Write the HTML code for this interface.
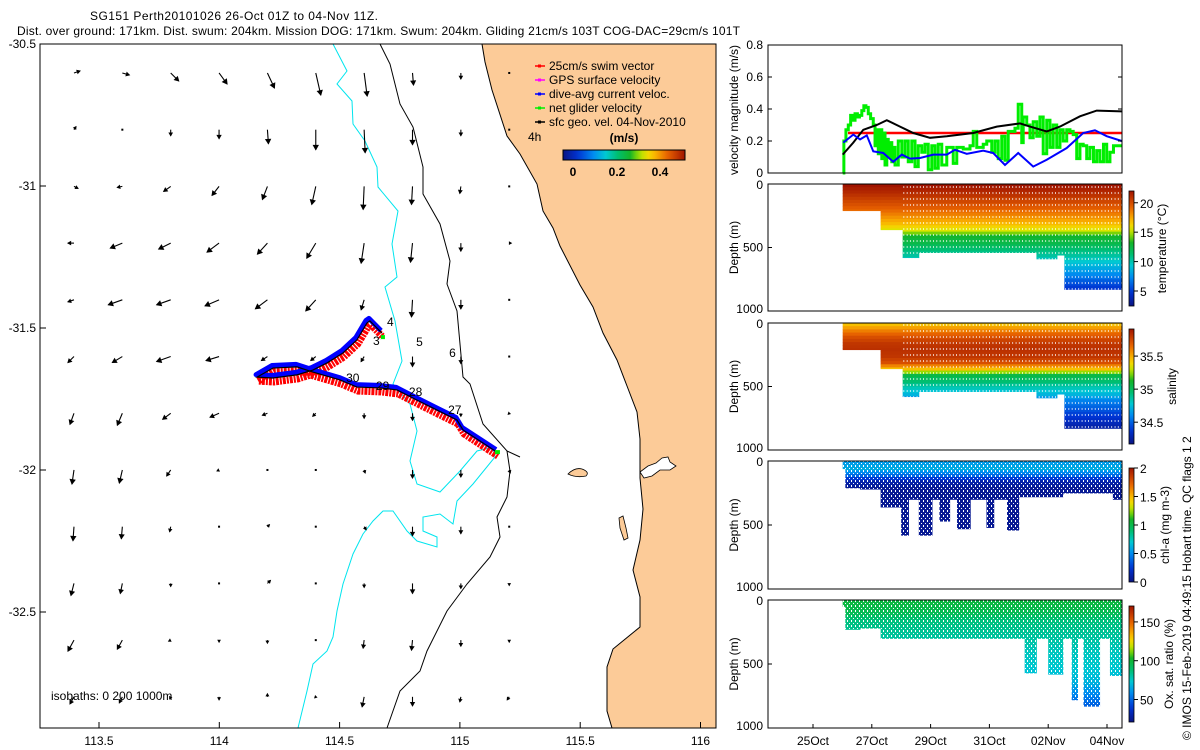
<!DOCTYPE html>
<html><head><meta charset="utf-8"><style>
html,body{margin:0;padding:0;background:#fff;}
svg{display:block;font-family:"Liberation Sans",sans-serif;}
text{font-size:12px;fill:#000;}
</style></head><body>
<svg id="fig" width="1200" height="750" viewBox="0 0 1200 750">
<defs>
<pattern id="speck" width="4" height="5" patternUnits="userSpaceOnUse"><rect x="3" y="0" width="1" height="2" fill="#fff"/><rect x="1" y="3" width="1" height="1" fill="#fff"/></pattern>
<pattern id="vdots" width="3.3" height="6" patternUnits="userSpaceOnUse"><rect x="2.6" y="0" width="0.7" height="2" fill="#fff"/></pattern>
</defs>
<text x="90" y="20" textLength="288">SG151 Perth20101026 26-Oct 01Z to 04-Nov 11Z.</text>
<text x="17" y="35" textLength="723">Dist. over ground: 171km. Dist. swum: 204km. Mission DOG: 171km. Swum: 204km. Gliding 21cm/s 103T COG-DAC=29cm/s 101T</text>
<g id="map"></g>
<g id="right"></g>
</svg>
<script>
// ---------- DATA ----------
const gridU = [
 [0.06,0.07,0.08,0.08,0.07,0.05,0.03,0.01,0,0],
 [0.02,0,0,0,0.01,0,0.01,0,0,0],
 [0.04,-0.05,-0.07,-0.07,-0.05,-0.04,-0.01,-0.01,-0.01,0.01],
 [-0.06,-0.12,-0.12,-0.12,-0.10,-0.09,-0.03,-0.02,0,0.02],
 [-0.06,-0.14,-0.14,-0.14,-0.12,-0.10,-0.03,-0.01,0,0],
 [-0.06,-0.10,-0.14,-0.13,-0.06,-0.05,-0.03,0,0,0],
 [-0.04,-0.05,-0.08,-0.09,-0.05,-0.03,0,0,0,-0.01],
 [-0.02,-0.03,-0.04,-0.02,0,0,0.01,0,0,0.01],
 [-0.01,-0.01,-0.01,0,0.02,0,0.02,0,0,0],
 [-0.03,-0.02,0,0,0.03,0,0,0,0,0],
 [-0.06,-0.05,-0.02,0,0,0,-0.01,-0.01,0,0],
 [-0.04,-0.03,-0.01,0,0,-0.01,-0.02,0,-0.01,-0.02]];
const gridV = [
 [0.02,-0.02,-0.08,-0.11,-0.15,-0.22,-0.23,-0.12,-0.06,0],
 [0.03,-0.01,-0.06,-0.09,-0.14,-0.20,-0.23,-0.15,-0.06,0],
 [-0.02,-0.01,-0.05,-0.09,-0.13,-0.18,-0.23,-0.18,-0.07,0],
 [0,-0.05,-0.06,-0.09,-0.11,-0.15,-0.20,-0.19,-0.08,0],
 [-0.02,-0.05,-0.05,-0.06,-0.09,-0.11,-0.10,-0.17,-0.09,-0.01],
 [-0.06,-0.06,-0.05,-0.04,-0.04,-0.04,-0.05,-0.10,-0.07,0],
 [-0.11,-0.12,-0.06,-0.04,-0.02,-0.03,-0.05,-0.07,-0.03,-0.01],
 [-0.14,-0.13,-0.06,-0.01,0,0,-0.03,-0.08,-0.07,-0.03],
 [-0.14,-0.12,-0.05,0,0.02,0.01,-0.03,-0.09,-0.07,-0.01],
 [-0.12,-0.10,-0.03,0,0.03,0.01,-0.04,-0.10,-0.05,-0.02],
 [-0.11,-0.09,-0.01,-0.02,-0.03,0,-0.08,-0.10,-0.06,-0.02],
 [-0.07,-0.06,-0.02,-0.03,0.03,-0.01,-0.10,-0.09,-0.05,-0.03]];
const gridLon0 = 113.396, gridDLon = 0.201, gridLat0 = -30.602, gridDLat = -0.1997;
const trackLon = [115.154,115.096,115.013,114.988,114.905,114.822,114.739,114.668,114.572,114.502,114.389,114.323,114.223,114.157,114.223,114.323,114.389,114.448,114.514,114.572,114.614,114.626,114.676];
const trackLat = [-31.937,-31.905,-31.859,-31.824,-31.789,-31.754,-31.718,-31.711,-31.708,-31.683,-31.655,-31.637,-31.641,-31.673,-31.676,-31.665,-31.648,-31.623,-31.588,-31.542,-31.482,-31.475,-31.518];
const dayLabels = ["4","3","5","6","30","29","28","27"];
const dayLabLon = [114.697,114.639,114.818,114.955,114.527,114.651,114.788,114.951];
const dayLabLat = [-31.493,-31.56,-31.563,-31.602,-31.69,-31.718,-31.739,-31.803];
const lonTicks = [113.5,114,114.5,115,115.5,116];
const latTicks = [-30.5,-31,-31.5,-32,-32.5];
const tBlue = [1.03,1.37,1.60,1.83,2.05,2.39,2.73,3.02,3.30,3.64,4.09,4.55,4.83,5.23,5.79,6.13,6.53,6.98,7.49,7.95,8.63,9.19,9.59,9.99,10.50];
const vBlue = [0.19,0.24,0.21,0.235,0.135,0.125,0.07,0.115,0.09,0.094,0.115,0.115,0.145,0.12,0.14,0.125,0.05,0.125,0.04,0.083,0.156,0.25,0.267,0.23,0.2];
const tBlack = [1.01,1.37,1.71,2.17,2.51,2.96,3.41,3.98,4.55,5.45,6.25,7.04,7.38,7.95,8.40,9.08,9.65,10.50];
const vBlack = [0.115,0.19,0.27,0.3,0.33,0.29,0.25,0.22,0.23,0.25,0.29,0.31,0.29,0.26,0.29,0.354,0.39,0.385];
const tRed = [1.19,10.5];
const vRed = [0.25,0.25];
const tGreen = [1.01,1.05,1.12,1.20,1.28,1.35,1.43,1.51,1.58,1.66,1.73,1.80,1.88,1.96,2.05,2.11,2.17,2.22,2.28,2.34,2.39,2.45,2.51,2.56,2.62,2.68,2.73,2.79,2.90,3.02,3.13,3.24,3.36,3.47,3.58,3.70,3.81,3.92,4.04,4.15,4.26,4.38,4.55,4.77,4.89,5.11,5.34,5.45,5.57,5.68,5.79,5.91,6.08,6.19,6.30,6.42,6.53,6.64,6.76,6.87,6.98,7.10,7.15,7.27,7.38,7.49,7.61,7.72,7.83,7.95,8.06,8.17,8.29,8.40,8.51,8.63,8.74,8.85,8.97,9.08,9.19,9.31,9.42,9.54,9.65,9.76,9.88,9.99,10.10,10.22,10.50];
const vGreen = [0,0.2,0.27,0.30,0.36,0.33,0.37,0.35,0.36,0.39,0.42,0.41,0.37,0.34,0.30,0.17,0.27,0.12,0.27,0.09,0.25,0.05,0.21,0.1,0.19,0.07,0.16,0.05,0.2,0.1,0.2,0.07,0.2,0.04,0.17,0.13,0.18,0.02,0.17,0.03,0.18,0.05,0.16,0.06,0.16,0.15,0.17,0.26,0.16,0.16,0.18,0.2,0.13,0.2,0.09,0.23,0.08,0.26,0.26,0.28,0.43,0.19,0.35,0.30,0.22,0.32,0.23,0.35,0.12,0.33,0.16,0.3,0.16,0.27,0.2,0.27,0.26,0.24,0.09,0.18,0.17,0.09,0.16,0.07,0.14,0.07,0.18,0.07,0.13,0.17,0.17];
const velTicks = [0,0.2,0.4,0.6,0.8];
const dateTicks = [0,2,4,6,8,10];
const dateLabels = ["25Oct","27Oct","29Oct","31Oct","02Nov","04Nov"];
const depthLevels = [0,50,100,150,200,250,300,350,400,450,500,550,600,650,700,750,800,850];
const tempProfile = [22,21.3,20.5,19.8,19,18,17,15.5,13,12.3,11.2,10.3,9.3,8.3,7.3,6,5,4.3];
const salProfile = [35.45,35.6,35.72,35.8,35.82,35.8,35.72,35.45,35.05,34.95,34.82,34.72,34.58,34.5,34.42,34.35,34.28,34.25];
const chlProfile = [0.55,0.6,0.4,0.12,0.06,0.05,0.05,0.05,0.05,0.05,0.05,0.05,0.05,0.05,0.05,0.05,0.05,0.05];
const oxyProfile = [98,96,92,86,84,82,80,78,76,75,74,72,70,66,60,55,50,48];
const tsSegT0 = [1.01,1.6,2.3,3.05,3.6,7.6,8.3,8.55];
const tsSegT1 = [1.6,2.3,3.05,3.6,7.6,8.3,8.55,10.5];
const tsSegMax = [210,210,360,580,540,590,560,830];
const chlSegT0 = [1.01,1.1,1.6,2.3,3.0,3.25,3.6,4.05,4.3,4.65,4.9,5.35,5.9,6.15,6.6,7.0,8.5,10.2];
const chlSegT1 = [1.1,1.6,2.3,3.0,3.25,3.6,4.05,4.3,4.65,4.9,5.35,5.9,6.15,6.6,7.0,8.5,10.2,10.5];
const chlSegMax = [60,210,220,360,580,300,580,300,470,300,530,300,520,300,540,280,250,300];
const oxySegT0 = [1.01,1.1,1.6,2.3,7.2,7.6,8.0,8.5,8.8,9.0,9.2,9.75,10.1];
const oxySegT1 = [1.1,1.6,2.3,7.2,7.6,8.0,8.5,8.8,9.0,9.2,9.75,10.1,10.5];
const oxySegMax = [50,230,220,300,570,300,580,300,780,300,830,300,590];

// ---------- HELPERS ----------
const NS='http://www.w3.org/2000/svg';
function mk(tag, attrs, parent){const e=document.createElementNS(NS,tag);for(const k in attrs)e.setAttribute(k,attrs[k]);parent.appendChild(e);return e;}
const map=document.getElementById('map'), right=document.getElementById('right');
const lonX = lon => 99 + (lon-113.5)*240.6;
const latY = lat => 44 + (-30.5-lat)*284;
const stops=[[0,[10,20,130]],[0.12,[0,50,210]],[0.25,[0,140,240]],[0.35,[0,200,210]],[0.45,[0,190,110]],[0.55,[20,180,40]],[0.62,[150,220,0]],[0.68,[240,230,0]],[0.76,[250,175,0]],[0.86,[230,95,0]],[1,[160,20,0]]];
function cmap(f){f=Math.max(0,Math.min(1,f));for(let i=1;i<stops.length;i++){if(f<=stops[i][0]){const a=stops[i-1],b=stops[i],r=(f-a[0])/(b[0]-a[0]);const c=a[1].map((v,j)=>Math.round(v+(b[1][j]-v)*r));return `rgb(${c[0]},${c[1]},${c[2]})`;}}return 'rgb(160,20,0)';}

// ---------- MAP ----------
mk('rect',{x:40,y:44,width:676,height:684,fill:'#fff'},map);
let e;
e=mk('path',{d:'M482,44 L485,62 L492,90 L507,136 L520,154 L537,184 L543,211 L553,228 L560,246 L580,285 L593,307 L603,333 L617,360 L627,386 L637,412 L640,439 L640,478 L643,509 L640,540 L633,570 L640,597 L640,627 L613,649 L607,667 L607,711 L612,728 L716,728 L716,44 Z',fill:'#fccb98',stroke:'#000','stroke-width':1},map);

e=mk('path',{d:'M568,474 Q575,467 582,469 Q590,472 586,476 Q576,478 568,474 Z',fill:'#fccb98',stroke:'#000','stroke-width':0.8},map);

e=mk('path',{d:'M619,518 L623,516 L626,528 L628,538 L624,540 L620,528 Z',fill:'#fccb98',stroke:'#000','stroke-width':0.8},map);

e=mk('path',{d:'M640,472 L648,466 L656,463 L662,458 L668,457 L670,462 L676,466 L670,470 L660,470 L652,476 L644,478 Z',fill:'#fff',stroke:'#000','stroke-width':0.8},map);

e=mk('path',{d:'M380,44 L390,64 L400,104 L413,127 L423,167 L423,194 L440,224 L450,261 L447,284 L457,311 L463,377 L470,384 L483,424 L507,451 L520,457 M507,451 L510,471 L507,497 L497,517 L500,537 L490,557 L467,584 L447,611 L427,651 L420,671 L400,691 L387,728',fill:'none',stroke:'#000','stroke-width':1},map);

e=mk('path',{d:'M333,44 L347,71 L337,84 L352,101 L353,124 L365,141 L377,167 L378,187 L398,211 L392,244 L397,277 L385,287 L395,321 L402,361 L393,384 L410,404 L417,431 L410,461 L417,484 L440,492 L460,471 L477,451 L493,447 L495,457 L473,484 L457,501 L453,524 L440,514 L423,517 L423,531 L437,537 L437,547 L417,541 L407,531 L393,511 L383,511 L373,521 L363,534 L353,554 L343,584 L337,611 L333,637 L327,651 L313,664 L307,691 L298,728',fill:'none',stroke:'#00e5ee','stroke-width':1},map);


const arrG=mk('g',{},map);

for(let r=0;r<gridU.length;r++){for(let c=0;c<gridU[r].length;c++){
  const x0=lonX(gridLon0+c*gridDLon), y0=latY(gridLat0+r*gridDLat);
  const dx=gridU[r][c]*100, dy=-gridV[r][c]*100, L=Math.hypot(dx,dy);
  const g=mk('g',{},arrG);
  
  
  if(L<1.2){mk('rect',{x:x0-1,y:y0-1,width:2,height:2,fill:'#000'},g);continue;}
  const ux=dx/L,uy=dy/L,hs=Math.min(3.2,1.6+L*0.12);
  mk('line',{x1:x0,y1:y0,x2:x0+dx,y2:y0+dy,stroke:'#000','stroke-width':1.1},g);
  const tx=x0+dx+ux,ty=y0+dy+uy;
  mk('polygon',{points:`${tx},${ty} ${tx-ux*hs*1.8-uy*hs},${ty-uy*hs*1.8+ux*hs} ${tx-ux*hs*1.8+uy*hs},${ty-uy*hs*1.8-ux*hs}`,fill:'#000'},g);
}}

const tp=trackLon.map((lo,i)=>[lonX(lo),latY(trackLat[i])]);
const ptsOff=(ox,oy)=>tp.map(p=>`${p[0]+ox},${p[1]+oy}`).join(' ');
e=mk('polyline',{points:ptsOff(1,4),fill:'none',stroke:'#ff0000','stroke-width':7,'stroke-dasharray':'2 1 3 1','stroke-linejoin':'round'},map);

e=mk('polyline',{points:ptsOff(-1,-2.5),fill:'none',stroke:'#0000ff','stroke-width':5,'stroke-linejoin':'round'},map);

e=mk('polyline',{points:ptsOff(0,0),fill:'none',stroke:'#000','stroke-width':1.2},map);

e=mk('rect',{x:tp[0][0]-2,y:tp[0][1]-2,width:5,height:4,fill:'#00ee00'},map);

e=mk('rect',{x:tp[tp.length-1][0]-1,y:tp[tp.length-1][1]+2,width:4,height:4,fill:'#00ee00'},map);

dayLabels.forEach((s,i)=>{const t=mk('text',{x:lonX(dayLabLon[i]),y:latY(dayLabLat[i])},map);t.textContent=s;
  });

const legItems=[['25cm/s swim vector','#ff0000'],['GPS surface velocity','#ff00ff'],['dive-avg current veloc.','#0000ff'],['net glider velocity','#00ee00'],['sfc geo. vel. 04-Nov-2010','#000']];
const legG=mk('g',{},map);
legItems.forEach((it,i)=>{const y=66+i*14;
  const l=mk('line',{x1:535,y1:y,x2:545,y2:y,stroke:it[1],'stroke-width':1.5},legG);
  
  mk('rect',{x:538,y:y-1.5,width:3,height:3,fill:it[1]},legG);
  const t=mk('text',{x:549,y:y+4},legG);t.textContent=it[0];
  });
e=mk('text',{x:528,y:141},map);e.textContent='4h';
e=mk('text',{x:624,y:142,'text-anchor':'middle','font-weight':'bold'},map);e.textContent='(m/s)';
const defs=document.querySelector('defs');
const lg=mk('linearGradient',{id:'hgrad',x1:0,y1:0,x2:1,y2:0},defs);
const lgv=mk('linearGradient',{id:'vgrad',x1:0,y1:1,x2:0,y2:0},defs);
for(let i=0;i<=20;i++){mk('stop',{offset:i/20,'stop-color':cmap(i/20)},lg);mk('stop',{offset:i/20,'stop-color':cmap(i/20)},lgv);}
e=mk('rect',{x:563,y:150,width:122,height:10,fill:'url(#hgrad)',stroke:'#000','stroke-width':1},map);

[['0',573],['0.2',617],['0.4',660]].forEach(a=>{const t=mk('text',{x:a[1],y:176,'text-anchor':'middle','font-weight':'bold'},map);t.textContent=a[0];
  });
e=mk('text',{x:51,y:700},map);e.textContent='isobaths: 0  200  1000m';

e=mk('rect',{x:40,y:44,width:676,height:684,fill:'none',stroke:'#000','stroke-width':1},map);

lonTicks.forEach(v=>{const x=lonX(v);mk('line',{x1:x,y1:728,x2:x,y2:722,stroke:'#000'},map);
  const t=mk('text',{x:x,y:745,'text-anchor':'middle'},map);t.textContent=String(v);
  });
latTicks.forEach(v=>{const y=latY(v);mk('line',{x1:40,y1:y,x2:46,y2:y,stroke:'#000'},map);
  const t=mk('text',{x:36,y:y+4,'text-anchor':'end'},map);t.textContent=String(v);
  });

// ---------- RIGHT PANELS ----------
const X0=768,X1=1122;
const xT=t=>813+t*29.4;
const vY=v=>173-v/0.8*128;
e=mk('polyline',{points:tRed.map((t,i)=>`${xT(t)},${vY(vRed[i])}`).join(' '),fill:'none',stroke:'#ff0000','stroke-width':2.5},right);

let gp=[];tGreen.forEach((t,i)=>{if(i>0)gp.push(`${xT(t)},${vY(vGreen[i-1])}`);gp.push(`${xT(t)},${vY(vGreen[i])}`);});
e=mk('polyline',{points:gp.join(' '),fill:'none',stroke:'#00ee00','stroke-width':3},right);

e=mk('polyline',{points:tBlack.map((t,i)=>`${xT(t)},${vY(vBlack[i])}`).join(' '),fill:'none',stroke:'#000','stroke-width':2},right);

e=mk('polyline',{points:tBlue.map((t,i)=>`${xT(t)},${vY(vBlue[i])}`).join(' '),fill:'none',stroke:'#0000ff','stroke-width':2},right);

e=mk('rect',{x:X0,y:45,width:X1-X0,height:128,fill:'none',stroke:'#000'},right);

velTicks.forEach(v=>{const y=vY(v);mk('line',{x1:X0,y1:y,x2:X0+4,y2:y,stroke:'#000'},right);mk('line',{x1:X1,y1:y,x2:X1-4,y2:y,stroke:'#000'},right);
  const t=mk('text',{x:763,y:y+4,'text-anchor':'end'},right);t.textContent=String(v);
  });
e=mk('text',{x:0,y:0,transform:'translate(738,110) rotate(-90)','text-anchor':'middle'},right);e.textContent='velocity magnitude (m/s)';


const panels=[
 {top:184,bot:311,prof:tempProfile,t0:tsSegT0,t1:tsSegT1,mx:tsSegMax,vmin:2.45,vmax:22,cb:[191,306],ticks:[5,10,15,20],lab:'temperature (°C)',labx:1166,name:'temperature',pat:'vdots'},
 {top:323,bot:450,prof:salProfile,t0:tsSegT0,t1:tsSegT1,mx:tsSegMax,vmin:34.17,vmax:35.91,cb:[329,444],ticks:[34.5,35,35.5],lab:'salinity',labx:1176,name:'salinity',pat:'vdots'},
 {top:461,bot:589,prof:chlProfile,t0:chlSegT0,t1:chlSegT1,mx:chlSegMax,vmin:0,vmax:2,cb:[468,582],ticks:[0,0.5,1,1.5,2],lab:'chl-a (mg m-3)',labx:1169,name:'chlorophyll',pat:'speck'},
 {top:600,bot:728,prof:oxyProfile,t0:oxySegT0,t1:oxySegT1,mx:oxySegMax,vmin:21,vmax:170.5,cb:[606,722],ticks:[50,100,150],lab:'Ox. sat. ratio (%)',labx:1173,name:'oxygen',pat:'speck'}];
panels.forEach(P=>{
  const g=mk('g',{},right);
  
  
  const dY=d=>P.top+d/1000*(P.bot-P.top);
  P.t0.forEach((ta,s)=>{
    const x=xT(ta),w=xT(P.t1[s])-x;
    for(let d=0;d<P.mx[s];d+=25){
      const i=Math.min(Math.floor(d/50),depthLevels.length-2),r=(d-depthLevels[i])/50;
      const val=P.prof[i]+(P.prof[i+1]-P.prof[i])*r;
      const dd=Math.min(d+25,P.mx[s]);
      const rc=mk('rect',{x:x,y:dY(d),width:w+0.4,height:dY(dd)-dY(d)+0.4,fill:cmap((val-P.vmin)/(P.vmax-P.vmin))},g);
      
      
    }
  });
  const ov=mk('rect',{x:xT(P.pat==='vdots'?3.0:1.0),y:P.top,width:X1-xT(P.pat==='vdots'?3.0:1.0),height:P.bot-P.top,fill:`url(#${P.pat})`},right);
  
  const fr=mk('rect',{x:X0,y:P.top,width:X1-X0,height:P.bot-P.top,fill:'none',stroke:'#000'},right);
  
  [0,500,1000].forEach(d=>{const y=dY(d);mk('line',{x1:X0,y1:y,x2:X0+4,y2:y,stroke:'#000'},right);
    const t=mk('text',{x:763,y:y+(d===0?5:d===1000?2:4),'text-anchor':'end'},right);t.textContent=String(d);
    });
  const yl=mk('text',{x:0,y:0,transform:`translate(738,${(P.top+P.bot)/2}) rotate(-90)`,'text-anchor':'middle'},right);yl.textContent='Depth (m)';
  
  const cb=mk('rect',{x:1129,y:P.cb[0],width:5,height:P.cb[1]-P.cb[0],fill:'url(#vgrad)',stroke:'#000','stroke-width':0.8},right);
  
  P.ticks.forEach(v=>{const y=P.cb[1]-(v-P.vmin)/(P.vmax-P.vmin)*(P.cb[1]-P.cb[0]);
    mk('line',{x1:1134,y1:y,x2:1138,y2:y,stroke:'#000'},right);
    const t=mk('text',{x:1140,y:y+5,'font-size':'13px'},right);t.textContent=String(v);
    });
  const cl=mk('text',{x:0,y:0,transform:`translate(${P.labx},${(P.cb[0]+P.cb[1])/2}) rotate(-90)`,'text-anchor':'middle','font-size':'13px'},right);cl.textContent=P.lab;
  
});
dateTicks.forEach((t,i)=>{const x=xT(t);mk('line',{x1:x,y1:728,x2:x,y2:724,stroke:'#000'},right);
  const tx=mk('text',{x:x,y:745,'text-anchor':'middle'},right);tx.textContent=dateLabels[i];
  });
e=mk('text',{x:0,y:0,transform:'translate(1191,740) rotate(-90)','font-size':'13px'},right);e.textContent='© IMOS 15-Feb-2019 04:49:15 Hobart time. QC flags 1  2';

</script>
</body></html>
